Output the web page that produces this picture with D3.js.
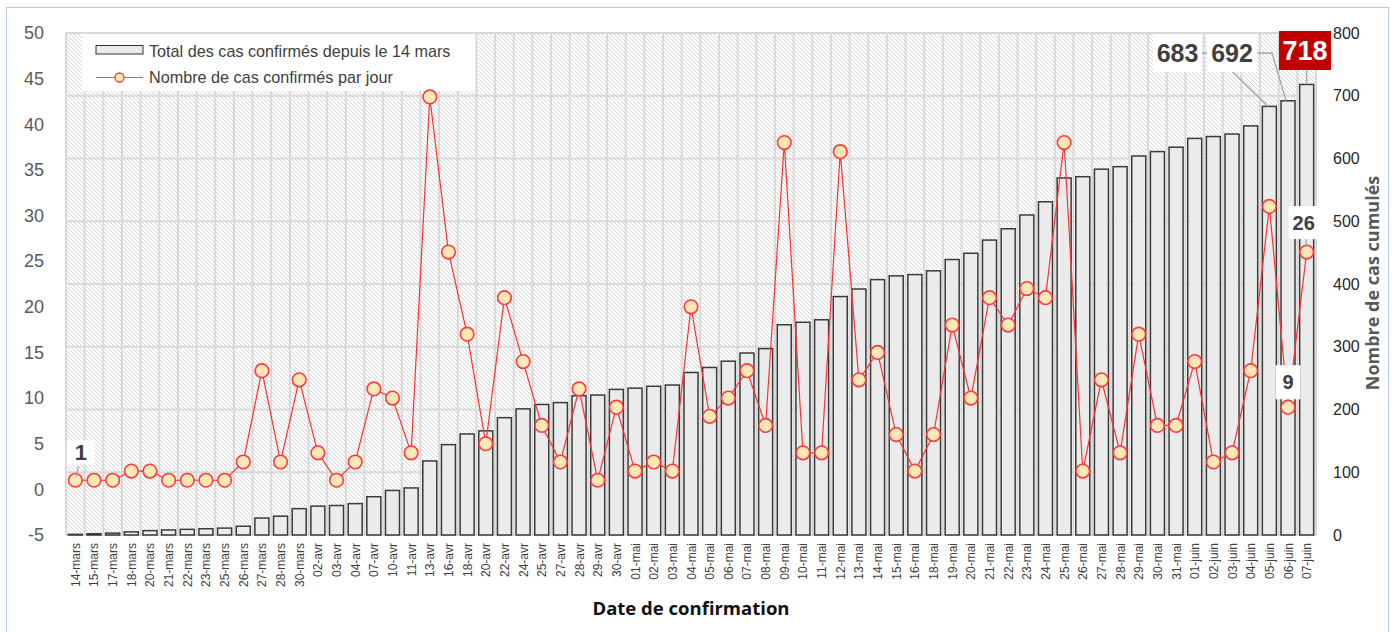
<!DOCTYPE html>
<html><head><meta charset="utf-8">
<script src="https://cdn.jsdelivr.net/npm/d3@7"></script>
<style>
html,body{margin:0;padding:0;background:#fff;}
svg{display:block;}
</style></head>
<body>
<svg id="chart" width="1396" height="632"></svg>
<script>
const categories = ["14-mars","15-mars","17-mars","18-mars","20-mars","21-mars","22-mars","23-mars","25-mars","26-mars","27-mars","28-mars","30-mars",
"02-avr","03-avr","04-avr","07-avr","10-avr","11-avr","13-avr","16-avr","18-avr","20-avr","22-avr","24-avr","25-avr","27-avr","28-avr","29-avr","30-avr",
"01-mai","02-mai","03-mai","04-mai","05-mai","06-mai","07-mai","08-mai","09-mai","10-mai","11-mai","12-mai","13-mai","14-mai","15-mai","16-mai",
"18-mai","19-mai","20-mai","21-mai","22-mai","23-mai","24-mai","25-mai","26-mai","27-mai","28-mai","29-mai","30-mai","31-mai",
"01-juin","02-juin","03-juin","04-juin","05-juin","06-juin","07-juin"];

const daily = [1,1,1,2,2,1,1,1,1,3,13,3,12,
4,1,3,11,10,4,43,26,17,5,21,14,7,3,11,1,9,
2,3,2,20,8,10,13,7,38,4,4,37,12,15,6,2,
6,18,10,21,18,22,21,38,2,12,4,17,7,7,
14,3,4,13,31,9,26];

const cumulative = [1,2,3,5,7,8,9,10,11,14,27,30,42,
46,47,50,61,71,75,118,144,161,166,187,201,208,211,222,223,232,
234,237,239,259,267,277,290,297,335,339,343,380,392,407,413,415,
421,439,449,470,488,510,531,569,571,583,587,604,611,618,
632,635,639,652,683,692,718];

const leftTicks = [-5,0,5,10,15,20,25,30,35,40,45,50];
const rightTicks = [0,100,200,300,400,500,600,700,800];

const seriesNames = ["Total des cas confirmés depuis le 14 mars","Nombre de cas confirmés par jour"];
const xTitle = "Date de confirmation";
const yRightTitle = "Nombre de cas cumulés";

const dailyLabels = [["14-mars","1"],["06-juin","9"],["07-juin","26"]];
const cumLabels = [["05-juin","683"],["06-juin","692"],["07-juin","718"]];

const svg = d3.select("#chart");
const M = {left:66, right:1316, top:33, bottom:535};

const x = d3.scaleBand().domain(categories).range([M.left, M.right]).paddingInner(0).paddingOuter(0);
const yL = d3.scaleLinear().domain([-5,50]).range([M.bottom, M.top]);
const yR = d3.scaleLinear().domain([0,800]).range([M.bottom, M.top]);

svg.append("rect").attr("x",6.5).attr("y",7.5).attr("width",1382).attr("height",640)
  .attr("fill","none").attr("stroke","#b4c7e7").attr("stroke-width",1);

const defs = svg.append("defs");
const pat = defs.append("pattern").attr("id","hatch").attr("patternUnits","userSpaceOnUse")
  .attr("width",4).attr("height",4);
pat.append("rect").attr("width",4).attr("height",4).attr("fill","#ffffff");
pat.append("path").attr("d","M-1,-1 L5,5 M3,-1 L5,1 M-1,3 L1,5").attr("stroke","#d6d6d6").attr("stroke-width",1);

svg.append("rect").attr("x",M.left).attr("y",M.top).attr("width",M.right-M.left).attr("height",M.bottom-M.top)
  .attr("fill","url(#hatch)");

const gridG = svg.append("g");
const bounds = categories.map(c => x(c)).concat([M.right]);
gridG.selectAll("line.v").data(bounds).join("line")
  .attr("x1",d=>d).attr("x2",d=>d).attr("y1",M.top).attr("y2",M.bottom)
  .attr("stroke","#d9d9d9").attr("stroke-width",2);
gridG.selectAll("line.h").data(rightTicks).join("line")
  .attr("x1",M.left).attr("x2",M.right).attr("y1",d=>yR(d)).attr("y2",d=>yR(d))
  .attr("stroke","#d9d9d9").attr("stroke-width",2);

const bw = 14;
svg.append("g").selectAll("rect").data(categories).join("rect")
  .attr("x",(c)=>x(c)+x.bandwidth()/2-bw/2)
  .attr("y",(c,i)=>yR(cumulative[i]))
  .attr("width",bw)
  .attr("height",(c,i)=>M.bottom-yR(cumulative[i]))
  .attr("fill","#ebebeb").attr("stroke","#3a3a3a").attr("stroke-width",1.5);

const lg = svg.append("g");
lg.append("rect").attr("x",82).attr("y",34).attr("width",393).attr("height",57).attr("fill","#fff");
lg.append("rect").attr("x",96).attr("y",45.5).attr("width",47).attr("height",8.5).attr("fill","#ebebeb").attr("stroke","#333").attr("stroke-width",1);
lg.append("text").attr("x",149).attr("y",56.5).text(seriesNames[0])
  .attr("font-family","'Liberation Sans', Arial, sans-serif").attr("font-size",16.2).attr("fill","#404040");
lg.append("line").attr("x1",96).attr("x2",143).attr("y1",77.5).attr("y2",77.5).attr("stroke","#ff5050").attr("stroke-width",1.2);
lg.append("circle").attr("cx",119.5).attr("cy",77.5).attr("r",4.5).attr("fill","#ffe8b8").attr("stroke","#ff3b3b").attr("stroke-width",1.3);
lg.append("text").attr("x",149).attr("y",83).text(seriesNames[1])
  .attr("font-family","'Liberation Sans', Arial, sans-serif").attr("font-size",16.2).attr("fill","#404040");

const cx = c => x(c)+x.bandwidth()/2;
const line = d3.line().x((d,i)=>cx(categories[i])).y(d=>yL(d));
svg.append("path").datum(daily).attr("d",line).attr("fill","none").attr("stroke","#ff3030").attr("stroke-width",1.2);
svg.append("g").selectAll("circle").data(daily).join("circle")
  .attr("cx",(d,i)=>cx(categories[i])).attr("cy",d=>yL(d)).attr("r",6.8)
  .attr("fill","#ffe8b8").attr("stroke","#ff3b3b").attr("stroke-width",1.6);

svg.append("g").selectAll("text").data(leftTicks).join("text")
  .attr("x",44).attr("y",d=>yL(d)).attr("dy","0.35em").attr("text-anchor","end")
  .attr("font-family","'Liberation Sans', Arial, sans-serif").attr("font-size",18).attr("fill","#595959")
  .text(d=>d);
svg.append("g").selectAll("text").data(rightTicks).join("text")
  .attr("x",1333).attr("y",d=>yR(d)).attr("dy","0.35em").attr("text-anchor","start")
  .attr("font-family","'Liberation Sans', Arial, sans-serif").attr("font-size",16).attr("fill","#262626")
  .text(d=>d);

svg.append("g").selectAll("text").data(categories).join("text")
  .attr("transform",c=>`translate(${cx(c)+4.5},543) rotate(-90)`)
  .attr("text-anchor","end")
  .attr("font-family","'Liberation Sans', Arial, sans-serif").attr("font-size",12).attr("fill","#404040")
  .text(c=>c);

svg.append("text").attr("x",691).attr("y",615).attr("text-anchor","middle")
  .attr("font-family","'Open Sans', 'Noto Sans', sans-serif").attr("font-weight","bold").attr("font-size",18.5).attr("fill","#111")
  .text(xTitle);
svg.append("text").attr("transform","translate(1379,283) rotate(-90)").attr("text-anchor","middle")
  .attr("font-family","'Open Sans', 'Noto Sans', sans-serif").attr("font-weight","bold").attr("font-size",18).attr("fill","#595959")
  .text(yRightTitle);

const lblFont = "'Liberation Sans Narrow', 'Arial Narrow', 'Liberation Sans', sans-serif";
const ann = svg.append("g");
function box(xc, yTop, w, h, txt, opts={}){
  ann.append("rect").attr("x",xc-w/2).attr("y",yTop).attr("width",w).attr("height",h).attr("fill",opts.fill||"#fff");
  ann.append("text").attr("x",xc).attr("y",yTop+h/2).attr("dy","0.36em").attr("text-anchor","middle")
    .attr("font-family",lblFont).attr("font-weight","bold").attr("font-size",opts.size||20)
    .attr("fill",opts.color||"#404040").text(txt);
}
function leader(pts){
  ann.append("polyline").attr("points",pts.map(p=>p.join(",")).join(" ")).attr("fill","none").attr("stroke","#a6a6a6").attr("stroke-width",1.3);
}
{
  const [c0,t0] = dailyLabels[0]; const i0 = categories.indexOf(c0);
  const px = cx(c0), py = yL(daily[i0]);
  leader([[px+3,py-14],[px+1,py-3]]);
  box(px+5.5, py-40, 28, 24, t0, {size:22});
  const [c1,t1] = dailyLabels[1]; const i1 = categories.indexOf(c1);
  const qx = cx(c1), qy = yL(daily[i1]);
  leader([[qx,qy-18],[qx,qy-7]]);
  box(qx, qy-42, 25, 34, t1);
  const [c2,t2] = dailyLabels[2]; const i2 = categories.indexOf(c2);
  const rx = cx(c2), ry = yL(daily[i2]);
  leader([[rx-1,ry-16],[rx,ry-5]]);
  box(rx-3, ry-46, 30, 33, t2);
}
{
  const i683 = categories.indexOf(cumLabels[0][0]);
  const i692 = categories.indexOf(cumLabels[1][0]);
  const i718 = categories.indexOf(cumLabels[2][0]);
  const b1x = cx(categories[i683]), b1y = yR(cumulative[i683]);
  const b2x = cx(categories[i692]), b2y = yR(cumulative[i692]);
  const b3x = cx(categories[i718]), b3y = yR(cumulative[i718]);
  leader([[1202,53],[1213,53],[b1x-1,b1y]]);
  leader([[1257,53],[1272,53],[b2x-2,b2y]]);
  leader([[b3x,70],[b3x,b3y]]);
  box(1177.5, 34, 49, 38, cumLabels[0][1], {size:25});
  box(1232, 34, 50, 38, cumLabels[1][1], {size:25});
  box(1305, 31, 52, 39, cumLabels[2][1], {size:27, fill:"#c00000", color:"#ffffff"});
}
</script>
</body></html>
